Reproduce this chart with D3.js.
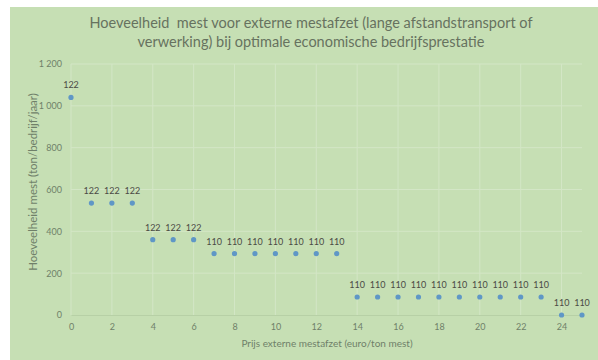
<!DOCTYPE html>
<html>
<head>
<meta charset="utf-8">
<script src="https://cdn.jsdelivr.net/npm/d3@7"></script>
<style>
  html, body { margin: 0; padding: 0; background: #ffffff; }
  svg { display: block; }
  svg text { white-space: pre; }
</style>
</head>
<body>
<svg id="chart" width="598" height="360"></svg>
<script>
// Prijs externe mestafzet (euro/ton mest)
const prices = [0, 1, 2, 3, 4, 5, 6, 7, 8, 9, 10, 11, 12, 13, 14, 15, 16, 17, 18, 19, 20, 21, 22, 23, 24, 25];
// Hoeveelheid mest voor externe afzet (ton/bedrijf/jaar)
const amounts = [1040, 535, 535, 535, 360, 360, 360, 293, 293, 293, 293, 293, 293, 293,
                 86, 86, 86, 86, 86, 86, 86, 86, 86, 86, 0, 0];
// Label bij elk punt
const pointLabels = ["122", "122", "122", "122", "122", "122", "122",
                     "110", "110", "110", "110", "110", "110", "110",
                     "110", "110", "110", "110", "110", "110", "110", "110", "110", "110", "110", "110"];
const xTicks = [0, 2, 4, 6, 8, 10, 12, 14, 16, 18, 20, 22, 24];
const yTicks = [0, 200, 400, 600, 800, 1000, 1200];
const titleLines = ["Hoeveelheid  mest voor externe mestafzet (lange afstandstransport of",
                    "verwerking) bij optimale economische bedrijfsprestatie"];
const xTitle = "Prijs externe mestafzet (euro/ton mest)";
const yTitle = "Hoeveelheid mest (ton/bedrijf/jaar)";

const svg = d3.select("#chart");
const font = "Lato, 'Open Sans', sans-serif";

// chart background
svg.append("rect").attr("x", 10).attr("y", 7).attr("width", 588).attr("height", 353)
  .attr("fill", "#c6dfb4");

const x = d3.scaleLinear().domain([0, 25]).range([71, 582]);
const y = d3.scaleLinear().domain([0, 1200]).range([315, 64]);

// gridlines
const grid = svg.append("g");
grid.selectAll("line.h").data(yTicks.slice(1)).join("line")
  .attr("x1", x(0)).attr("x2", x(25))
  .attr("y1", d => y(d)).attr("y2", d => y(d))
  .attr("stroke", "#d3e6c6").attr("stroke-width", 1);
grid.selectAll("line.v").data(xTicks).join("line")
  .attr("x1", d => x(d)).attr("x2", d => x(d))
  .attr("y1", y(1200)).attr("y2", y(0))
  .attr("stroke", "#d3e6c6").attr("stroke-width", 1);

// axes
const xAxis = svg.append("g").attr("transform", `translate(0,${y(0)})`)
  .call(d3.axisBottom(x).tickValues(xTicks).tickSize(0).tickPadding(9));
const yAxis = svg.append("g").attr("transform", `translate(${x(0) - 9},0)`)
  .call(d3.axisLeft(y).tickValues(yTicks).tickSize(0).tickPadding(0)
    .tickFormat(d => d3.format(",")(d).replace(",", " ")));
yAxis.select(".domain").remove();
xAxis.select(".domain").attr("stroke", "#b7d0a6");
[xAxis, yAxis].forEach(g => g.selectAll("text")
  .attr("fill", "#6f7f69").attr("font-family", font).attr("font-size", 9));

// scatter points
svg.append("g").selectAll("circle").data(prices).join("circle")
  .attr("cx", (d, i) => x(d)).attr("cy", (d, i) => y(amounts[i]))
  .attr("r", 2.6).attr("fill", "#5f97c6");

// point labels
svg.append("g").selectAll("text").data(prices).join("text")
  .attr("x", (d, i) => x(d)).attr("y", (d, i) => y(amounts[i]) - 9)
  .attr("text-anchor", "middle")
  .attr("font-family", font).attr("font-size", 9).attr("fill", "#4a4a44")
  .text((d, i) => pointLabels[i]);

// title
const title = svg.append("g");
titleLines.forEach((t, i) => {
  title.append("text").attr("x", 311).attr("y", 28 + i * 19)
    .attr("text-anchor", "middle").attr("font-family", font)
    .attr("font-size", 14.5).attr("fill", "#66725f").text(t);
});

// axis titles
svg.append("text").attr("x", 327).attr("y", 347).attr("text-anchor", "middle")
  .attr("font-family", font).attr("font-size", 10).attr("fill", "#6f7f69").text(xTitle);
svg.append("text").attr("transform", "translate(37,182) rotate(-90)")
  .attr("text-anchor", "middle").attr("font-family", font).attr("font-size", 11.5)
  .attr("fill", "#6f7f69").text(yTitle);
</script>
</body>
</html>
